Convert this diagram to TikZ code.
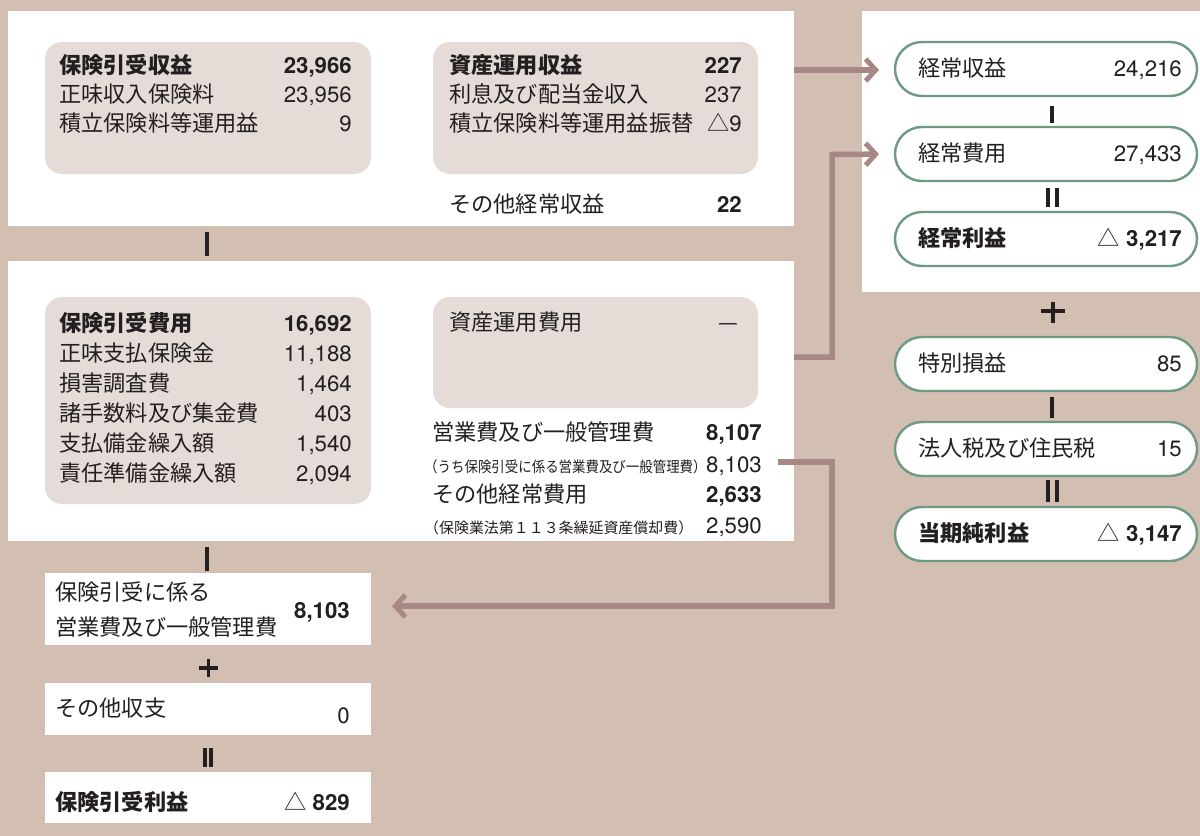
\documentclass[tikz,border=0pt]{standalone}
\usepackage{fontspec}
\usepackage{graphicx}
\setmainfont{Noto Sans CJK JP}
\newfontfamily\nf{TeX Gyre Heros}
\usetikzlibrary{arrows.meta}
\definecolor{bg}{HTML}{D2BFB2}
\definecolor{boxfill}{HTML}{E5DCD7}
\definecolor{arrowc}{HTML}{A88884}
\definecolor{pillc}{HTML}{6E9983}
\definecolor{ink}{HTML}{231F20}
\newcommand{\tri}{{\rmfamily\mdseries △}}
\begin{document}
\begin{tikzpicture}[x=1bp,y=-1bp,
  panel/.style={fill=white,draw=none,inner sep=0,outer sep=0,anchor=north west},
  softbox/.style={fill=boxfill,draw=none,rounded corners=17bp,inner sep=0,outer sep=0,anchor=north west,minimum width=326bp},
  pill/.style={fill=white,draw=pillc,line width=2.4bp,rounded corners=27bp,inner sep=0,outer sep=0,anchor=north west,minimum width=302bp,minimum height=54bp},
  wbox/.style={fill=white,draw=none,inner sep=0,outer sep=0,anchor=north west,minimum width=326bp},
  lbl/.style={anchor=base west,inner sep=0,text=ink,font=\fontsize{22.3}{26}\selectfont},
  blbl/.style={lbl,font=\fontsize{22.3}{26}\selectfont\bfseries},
  num/.style={anchor=base east,inner sep=0,text=ink,font=\fontsize{22.3}{26}\selectfont\nf},
  bnum/.style={num,font=\fontsize{22.3}{26}\selectfont\nf\bfseries},
  small/.style={anchor=base west,inner sep=0,text=ink,font=\fontsize{15}{17}\selectfont},
  sep/.style={draw=ink,line width=3.2bp},
  arr/.style={draw=arrowc,line width=5.5bp,-{Straight Barb[length=10bp,width=22bp,line width=5bp]}}
]
\useasboundingbox (0,0) rectangle (1200,836);
\fill[bg] (0,0) rectangle (1200,836);

% panels
\node[panel,minimum width=786bp,minimum height=215bp] (top) at (8,11) {};
\node[panel,minimum width=786bp,minimum height=280bp] (mid) at (8,261) {};
\node[panel,minimum width=338bp,minimum height=281bp] (right) at (862,11) {};

% soft boxes
\node[softbox,minimum height=132bp] (tl) at (45,42) {};
\node[softbox,minimum width=325bp,minimum height=132bp] (tm) at (433,42) {};
\node[softbox,minimum height=207bp] (ml) at (45,297) {};
\node[softbox,minimum width=325bp,minimum height=111bp] (mr) at (433,297) {};

% top-left texts
\node[blbl] (tl1) at (59,73) {保険引受収益};
\node[bnum] (tl1n) at (352,73) {23,966};
\node[lbl] (tl2) at (59,102) {正味収入保険料};
\node[num] (tl2n) at (352,102) {23,956};
\node[lbl] (tl3) at (59,131) {積立保険料等運用益};
\node[num] (tl3n) at (352,131) {9};

% top-middle texts
\node[blbl] (tm1) at (449,73) {資産運用収益};
\node[bnum] (tm1n) at (742,73) {227};
\node[lbl] (tm2) at (449,102) {利息及び配当金収入};
\node[num] (tm2n) at (742,102) {237};
\node[lbl] (tm3) at (449,131) {積立保険料等運用益振替};
\node[num] (tm3n) at (742,131) {\tri9};
\node[lbl] (tm4) at (449,212) {その他経常収益};
\node[bnum] (tm4n) at (742,212) {22};

% middle-left texts
\node[blbl] (ml1) at (59,331) {保険引受費用};
\node[bnum] (ml1n) at (352,331) {16,692};
\node[lbl] (ml2) at (59,361) {正味支払保険金};
\node[num] (ml2n) at (352,361) {11,188};
\node[lbl] (ml3) at (59,391) {損害調査費};
\node[num] (ml3n) at (352,391) {1,464};
\node[lbl] (ml4) at (59,421) {諸手数料及び集金費};
\node[num] (ml4n) at (352,421) {403};
\node[lbl] (ml5) at (59,451) {支払備金繰入額};
\node[num] (ml5n) at (352,451) {1,540};
\node[lbl] (ml6) at (59,481) {責任準備金繰入額};
\node[num] (ml6n) at (352,481) {2,094};

% middle-right texts
\node[lbl] (mr1) at (449,330) {資産運用費用};
\node[lbl,anchor=base east] (mr1n) at (739,330) {—};
\node[lbl] (mr2) at (432,440) {営業費及び一般管理費};
\node[bnum] (mr2n) at (762,440) {8,107};
\node[small] (mr3) at (424,472) {\scalebox{0.9}[1]{（うち保険引受に係る営業費及び一般管理費）}};
\node[num] (mr3n) at (762,472) {8,103};
\node[lbl] (mr4) at (432,502) {その他経常費用};
\node[bnum] (mr4n) at (762,502) {2,633};
\node[small] (mr5) at (424,533) {（保険業法第１１３条繰延資産償却費）};
\node[num] (mr5n) at (762,533) {2,590};

% pills
\node[pill] (p1) at (895,42) {};
\node[pill] (p2) at (895,127) {};
\node[pill] (p3) at (895,212) {};
\node[pill] (p4) at (895,337) {};
\node[pill] (p5) at (895,422) {};
\node[pill] (p6) at (895,507) {};
\node[lbl] (p1t) at (918,76) {経常収益};
\node[num] (p1n) at (1182,76) {24,216};
\node[lbl] (p2t) at (918,161) {経常費用};
\node[num] (p2n) at (1182,161) {27,433};
\node[blbl] (p3t) at (918,246) {経常利益};
\node[bnum] (p3n) at (1182,246) {\tri{} 3,217};
\node[lbl] (p4t) at (918,371) {特別損益};
\node[num] (p4n) at (1182,371) {85};
\node[lbl] (p5t) at (918,456) {法人税及び住民税};
\node[num] (p5n) at (1182,456) {15};
\node[blbl] (p6t) at (918,541) {当期純利益};
\node[bnum] (p6n) at (1182,541) {\tri{} 3,147};

% bottom-left boxes
\node[wbox,minimum height=72bp] (b1) at (45,573) {};
\node[wbox,minimum height=52bp] (b2) at (45,683) {};
\node[wbox,minimum height=51bp] (b3) at (45,772) {};
\node[lbl] (b1a) at (55,600) {保険引受に係る};
\node[lbl] (b1b) at (55,635) {営業費及び一般管理費};
\node[bnum] (b1n) at (350,618) {8,103};
\node[lbl] (b2t) at (55,716) {その他収支};
\node[num] (b2n) at (350,723) {0};
\node[blbl] (b3t) at (55,810) {保険引受利益};
\node[bnum] (b3n) at (350,810) {\tri{} 829};

% operator symbols
\draw[sep] (207,232) -- (207,256);
\draw[sep] (207,547) -- (207,571);
\draw[sep] (199,668) -- (218,668) (208.5,659) -- (208.5,677);
\draw[sep] (205,748) -- (205,767) (211,748) -- (211,767);
\draw[sep] (1052,106) -- (1052,123);
\draw[sep] (1048,188) -- (1048,207) (1057,188) -- (1057,207);
\draw[sep] (1041,311) -- (1065,311) (1053,302) -- (1053,323);
\draw[sep] (1052,397) -- (1052,418);
\draw[sep] (1048,480) -- (1048,502) (1057,480) -- (1057,502);

% connectors
\coordinate (a1s) at (794,70);
\draw[arr,shorten >=16bp] (a1s) -- (a1s -| p1.west);
\coordinate (a2s) at (794,357);
\coordinate (a2k) at (832,154.5);
\draw[arr,shorten >=16bp] (a2s) -| (a2k) -- (p2.west);
\coordinate (a3s) at (778,462);
\coordinate (a3k) at (832,606);
\draw[arr,shorten >=21bp] (a3s) -| (a3k) -- (a3k -| b1.east);
\end{tikzpicture}
\end{document}
